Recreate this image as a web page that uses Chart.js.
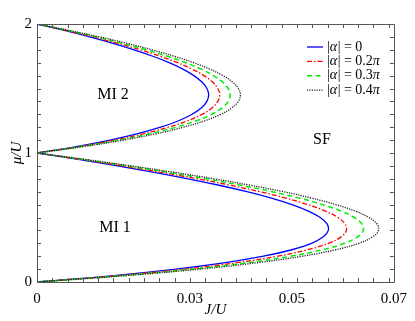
<!DOCTYPE html>
<html><head><meta charset="utf-8">
<script src="https://cdn.jsdelivr.net/npm/chart.js@4/dist/chart.umd.min.js"></script>
<style>html,body{margin:0;padding:0;background:#fff}#wrap{width:415px;height:321px}</style>
</head><body><div id="wrap"><canvas id="c" width="415" height="321"></canvas></div>
<script>
// ---- data ----
const mu1 = [0,0.05,0.1,0.15,0.2,0.25,0.3,0.35,0.4,0.45,0.5,0.55,0.6,0.65,0.7,0.75,0.8,0.85,0.9,0.95,1];
const mu2 = [1,1.05,1.1,1.15,1.2,1.25,1.3,1.35,1.4,1.45,1.5,1.55,1.6,1.65,1.7,1.75,1.8,1.85,1.9,1.95,2];
const J1_a0  = [0,0.01508,0.02727,0.03696,0.04444,0.05,0.05385,0.05617,0.05714,0.05690,0.05556,0.05323,0.05,0.04596,0.04118,0.03571,0.02963,0.02297,0.01579,0.00812,0];
const J1_a02 = [0,0.01601,0.02896,0.03925,0.04720,0.05310,0.05719,0.05965,0.06068,0.06043,0.05900,0.05653,0.05310,0.04881,0.04373,0.03792,0.03147,0.02439,0.01677,0.00862,0];
const J1_a03 = [0,0.01689,0.03054,0.04140,0.04977,0.05600,0.06031,0.06291,0.06400,0.06373,0.06223,0.05962,0.05600,0.05148,0.04612,0.04000,0.03319,0.02573,0.01768,0.00909,0];
const J1_a04 = [0,0.01767,0.03196,0.04332,0.05208,0.05860,0.06311,0.06583,0.06697,0.06669,0.06512,0.06239,0.05860,0.05387,0.04826,0.04185,0.03473,0.02692,0.01851,0.00952,0];
const J2_a0  = [0,0.00772,0.01429,0.01977,0.02424,0.02778,0.03043,0.03227,0.03333,0.03367,0.03333,0.03235,0.03077,0.02862,0.02593,0.02273,0.01905,0.01491,0.01034,0.00537,0];
const J2_a02 = [0,0.00822,0.01520,0.02103,0.02579,0.02956,0.03238,0.03434,0.03546,0.03583,0.03546,0.03442,0.03274,0.03045,0.02759,0.02418,0.02027,0.01586,0.01100,0.00571,0];
const J2_a03 = [0,0.00869,0.01608,0.02224,0.02727,0.03125,0.03423,0.03630,0.03750,0.03788,0.03750,0.03639,0.03462,0.03220,0.02917,0.02557,0.02143,0.01677,0.01164,0.00604,0];
const J2_a04 = [0,0.00915,0.01693,0.02343,0.02872,0.03292,0.03606,0.03824,0.03950,0.03990,0.03950,0.03834,0.03646,0.03391,0.03072,0.02693,0.02257,0.01767,0.01226,0.00636,0];
const legendLabels = ["0", "0.2", "0.3", "0.4"];
const xTickLabels = [0, 0.03, 0.05, 0.07];
const yTickLabels = [0, 1, 2];
const xMinorTicks = [0,0.003,0.006,0.009,0.012,0.015,0.018,0.021,0.024,0.027,0.03,0.033,0.036,0.039,0.042,0.045,0.048,0.051,0.054,0.057,0.06,0.063,0.066,0.069];
const yMinorTicks = [0,0.1,0.2,0.3,0.4,0.5,0.6,0.7,0.8,0.9,1,1.1,1.2,1.3,1.4,1.5,1.6,1.7,1.8,1.9,2];
const regionLabels = [["MI 2",0.0149,1.45],["MI 1",0.0153,0.42],["SF",0.0559,1.10]];

// ---- styles ----
const styles = [
  {color:'#0000ff', dash:[], width:1.3},
  {color:'#ff0000', dash:[5,2,1.5,2], width:1.3},
  {color:'#00ee00', dash:[5,3.5], width:1.5},
  {color:'#222222', dash:[1.2,1.2], width:1.3}
];
const lobe1 = [J1_a0,J1_a02,J1_a03,J1_a04];
const lobe2 = [J2_a0,J2_a02,J2_a03,J2_a04];
const datasets = [];
[lobe1, lobe2].forEach((lobe, li) => {
  const mus = li === 0 ? mu1 : mu2;
  lobe.forEach((arr, k) => {
    datasets.push({
      data: arr.map((x, i) => ({x: x, y: mus[i]})),
      showLine: true, fill: false, pointRadius: 0, tension: 0.4,
      borderColor: styles[k].color, borderDash: styles[k].dash, borderWidth: styles[k].width,
      order: 4 - k
    });
  });
});

const serif = '"Liberation Serif", "Times New Roman", serif';
const frameColor = '#555555';

const decor = {
  id: 'decor',
  afterDatasetsDraw(chart) {
    const ctx = chart.ctx, a = chart.chartArea;
    const xs = chart.scales.x, ys = chart.scales.y;
    ctx.save();
    ctx.strokeStyle = frameColor; ctx.lineWidth = 1;
    ctx.beginPath();
    ctx.rect(Math.round(a.left)+0.5, Math.round(a.top)+0.5, Math.round(a.right-a.left), Math.round(a.bottom-a.top));
    ctx.stroke();
    ctx.beginPath();
    const tl = 4;
    xMinorTicks.forEach(v => {
      const px = Math.round(xs.getPixelForValue(v)) + 0.5;
      ctx.moveTo(px, a.bottom); ctx.lineTo(px, a.bottom - tl);
      ctx.moveTo(px, a.top); ctx.lineTo(px, a.top + tl);
    });
    yMinorTicks.forEach(v => {
      const py = Math.round(ys.getPixelForValue(v)) + 0.5;
      ctx.moveTo(a.left, py); ctx.lineTo(a.left + tl, py);
      ctx.moveTo(a.right, py); ctx.lineTo(a.right - tl, py);
    });
    ctx.stroke();
    // region labels
    ctx.fillStyle = '#000';
    ctx.font = '16px ' + serif;
    ctx.textAlign = 'center'; ctx.textBaseline = 'middle';
    regionLabels.forEach(r => {
      ctx.fillText(r[0], xs.getPixelForValue(r[1]), ys.getPixelForValue(r[2]));
    });
    // legend
    const lx0 = 307, lx1 = 323, tx = 327, y0 = 47, dy = 14.4;
    legendLabels.forEach((lab, k) => {
      const y = y0 + k * dy;
      ctx.strokeStyle = styles[k].color; ctx.lineWidth = styles[k].width;
      ctx.setLineDash(styles[k].dash);
      ctx.beginPath(); ctx.moveTo(lx0, y); ctx.lineTo(lx1, y); ctx.stroke();
      ctx.setLineDash([]);
      ctx.fillStyle = '#000'; ctx.textAlign = 'left'; ctx.textBaseline = 'middle';
      let x = tx;
      const parts = [['|', ''], ['α', 'italic '], ['| = ' + lab, ''], [lab === '0' ? '' : 'π', 'italic ']];
      parts.forEach(p => {
        if (!p[0]) return;
        ctx.font = p[1] + '14px ' + serif;
        ctx.fillText(p[0], x, y);
        x += ctx.measureText(p[0]).width + (p[1] ? 0.5 : 0);
      });
    });
    ctx.restore();
  }
};

new Chart(document.getElementById('c'), {
  type: 'scatter',
  data: { datasets },
  plugins: [decor],
  options: {
    responsive: false, animation: false, events: [],
    layout: { padding: { top: 24, right: 21, left: 0, bottom: 0 } },
    plugins: { legend: { display: false }, tooltip: { enabled: false } },
    scales: {
      x: {
        type: 'linear', min: 0, max: 0.07,
        afterBuildTicks: s => { s.ticks = xTickLabels.map(v => ({value: v})); },
        afterFit: s => { s.height = 39; },
        grid: { display: false, drawTicks: false },
        border: { display: false },
        ticks: { padding: 8, color: '#000', font: { family: serif, size: 15 }, maxRotation: 0,
                 callback: v => String(v) },
        title: { display: true, text: 'J/U', color: '#000', font: { family: serif, size: 15, style: 'italic' }, padding: { top: 0, bottom: 1.5 } }
      },
      y: {
        type: 'linear', min: 0, max: 2,
        afterBuildTicks: s => { s.ticks = yTickLabels.map(v => ({value: v})); },
        afterFit: s => { s.width = 37; },
        grid: { display: false, drawTicks: false },
        border: { display: false },
        ticks: { padding: 5, color: '#000', font: { family: serif, size: 15 }, callback: v => String(v) },
        title: { display: true, text: 'μ/U', color: '#000', font: { family: serif, size: 15, style: 'italic' }, padding: { top: 8, bottom: 0 } }
      }
    }
  }
});
</script></body></html>
